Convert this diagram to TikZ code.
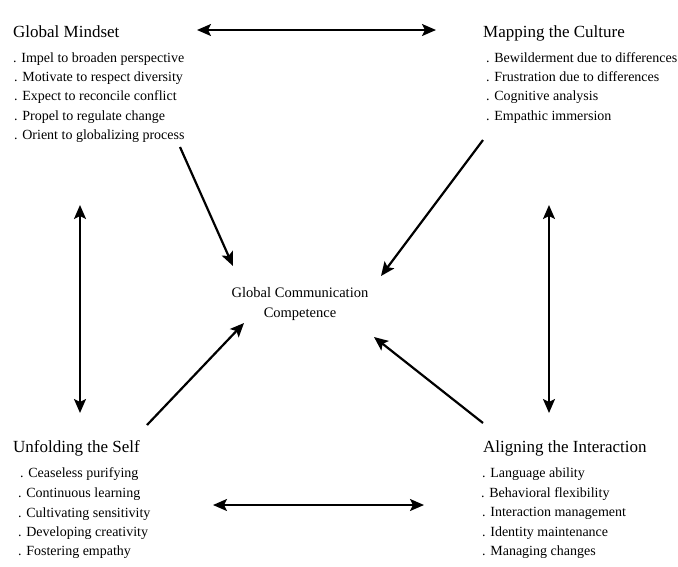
\documentclass[tikz,border=0pt]{standalone}
\usepackage{fontspec}
\setmainfont{Liberation Serif}
\usetikzlibrary{arrows.meta}
\begin{document}
\begin{tikzpicture}[x=1pt,y=-1pt,
  ttl/.style={anchor=base west,inner sep=0pt,font=\fontsize{17}{19}\selectfont},
  itm/.style={anchor=base west,inner sep=0pt,font=\fontsize{14}{16}\selectfont},
  ctr/.style={anchor=base,inner sep=0pt,font=\fontsize{14.5}{16}\selectfont},
  tip/.tip={Stealth[length=14pt,width=12pt,inset=3pt]},
  arr/.style={line width=2.2pt,-tip},
  darr/.style={line width=2.2pt,tip-tip}]
\useasboundingbox (0,0) rectangle (678,566);
% Global Mindset
\node[ttl] (gm) at (13,37) {Global Mindset};
\node[itm] (gm1) at (13,62) {. Impel to broaden perspective};
\node[itm] (gm2) at (14,81) {. Motivate to respect diversity};
\node[itm] (gm3) at (14,100) {. Expect to reconcile conflict};
\node[itm] (gm4) at (14,120) {. Propel to regulate change};
\node[itm] (gm5) at (14,139) {. Orient to globalizing process};
% Mapping the Culture
\node[ttl] (mc) at (483,37) {Mapping the Culture};
\node[itm] (mc1) at (486,62) {. Bewilderment due to differences};
\node[itm] (mc2) at (486,81) {. Frustration due to differences};
\node[itm] (mc3) at (486,100) {. Cognitive analysis};
\node[itm] (mc4) at (486,120) {. Empathic immersion};
% Unfolding the Self
\node[ttl] (us) at (13,452) {Unfolding the Self};
\node[itm] (us1) at (20,477) {. Ceaseless purifying};
\node[itm] (us2) at (18,497) {. Continuous learning};
\node[itm] (us3) at (18,517) {. Cultivating sensitivity};
\node[itm] (us4) at (18,536) {. Developing creativity};
\node[itm] (us5) at (18,555) {. Fostering empathy};
% Aligning the Interaction
\node[ttl] (ai) at (483,452) {Aligning the Interaction};
\node[itm] (ai1) at (482,477) {. Language ability};
\node[itm] (ai2) at (481,497) {. Behavioral flexibility};
\node[itm] (ai3) at (482,516) {. Interaction management};
\node[itm] (ai4) at (482,536) {. Identity maintenance};
\node[itm] (ai5) at (482,555) {. Managing changes};
% Center
\node[ctr] (gc1) at (300,297) {Global Communication};
\node[ctr] (gc2) at (300,317) {Competence};
% connector ends
\coordinate (t1) at (197,30); \coordinate (t2) at (436,30);
\coordinate (b1) at (213,505); \coordinate (b2) at (424,505);
\coordinate (l1) at (80,205); \coordinate (l2) at (80,413);
\coordinate (r1) at (549,205); \coordinate (r2) at (549,413);
\coordinate (a1) at (180,147); \coordinate (a2) at (233,266);
\coordinate (c1) at (483,140); \coordinate (c2) at (381,276);
\coordinate (d1) at (147,425); \coordinate (d2) at (244,323);
\coordinate (e1) at (483,423); \coordinate (e2) at (374,337);
\draw[darr] (t1) -- (t2);
\draw[darr] (b1) -- (b2);
\draw[darr] (l1) -- (l2);
\draw[darr] (r1) -- (r2);
\draw[arr] (a1) -- (a2);
\draw[arr] (c1) -- (c2);
\draw[arr] (d1) -- (d2);
\draw[arr] (e1) -- (e2);
\end{tikzpicture}
\end{document}
